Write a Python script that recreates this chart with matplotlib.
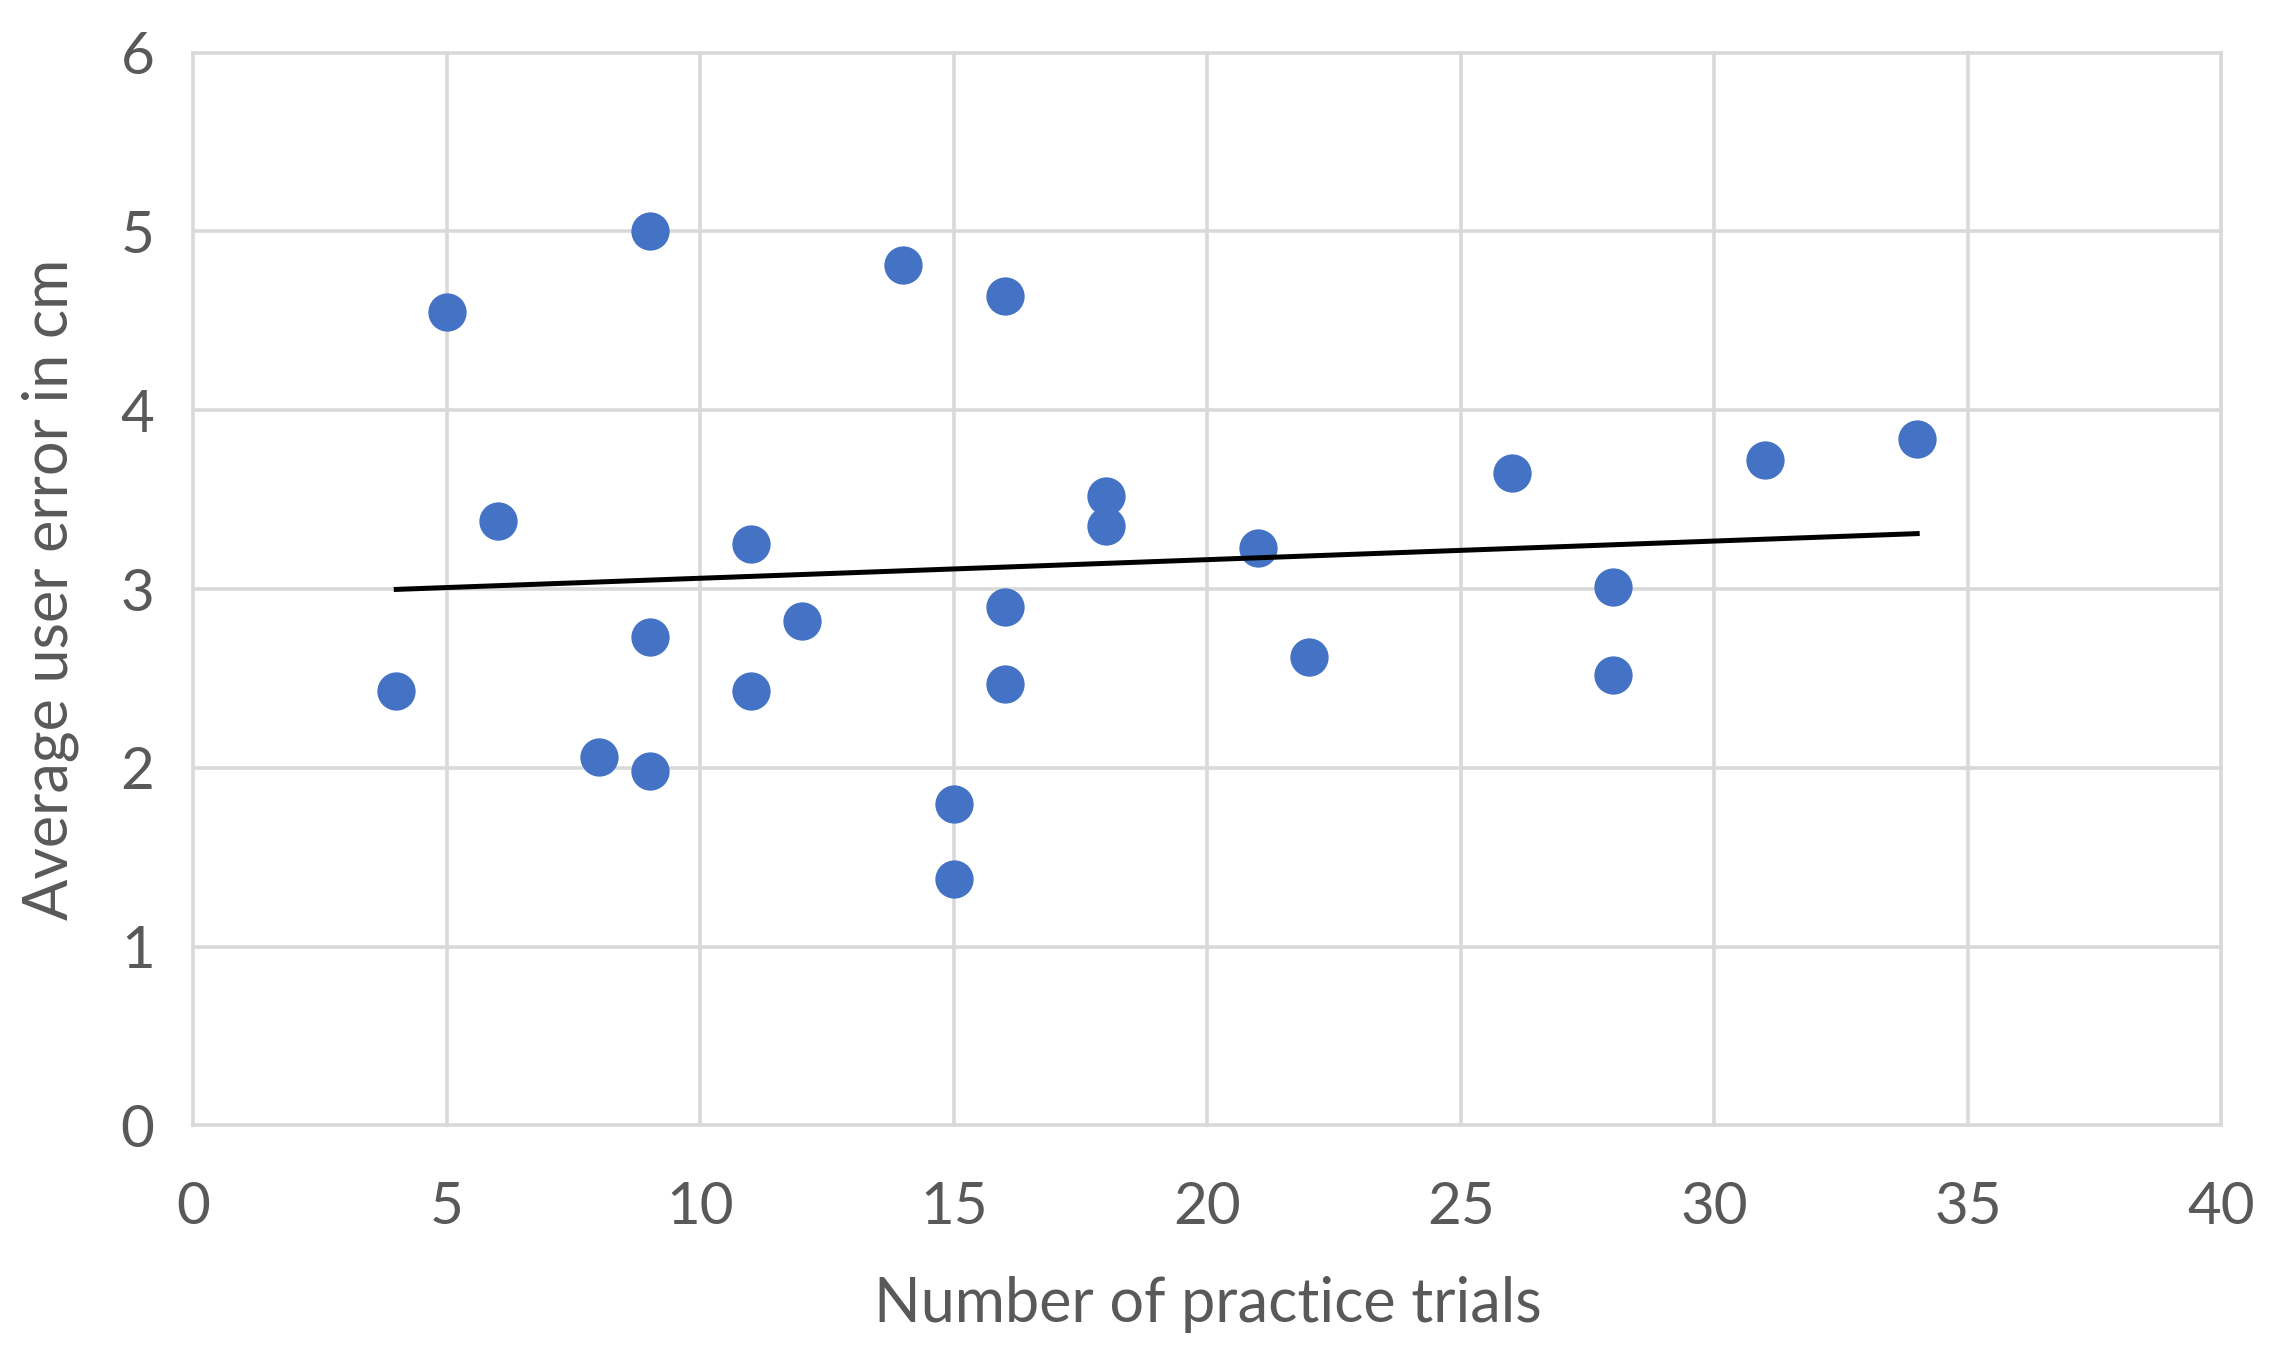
import numpy as np
import matplotlib
matplotlib.use("Agg")
import matplotlib.pyplot as plt

trials = [5, 9, 14, 16, 6, 11, 18, 18, 21, 26, 31, 34, 28, 28, 22, 16, 16, 12, 9, 11, 4, 8, 9, 15, 15]
errors = [4.55, 5.0, 4.81, 4.64, 3.38, 3.25, 3.52, 3.35, 3.23, 3.65, 3.72, 3.84, 3.01, 2.52, 2.62,
          2.90, 2.47, 2.82, 2.73, 2.43, 2.43, 2.06, 1.98, 1.80, 1.38]
x_ticks = [0, 5, 10, 15, 20, 25, 30, 35, 40]
y_ticks = [0, 1, 2, 3, 4, 5, 6]

plt.rcParams['font.family'] = ['Lato', 'DejaVu Sans']

fig = plt.figure(figsize=(22.76, 13.51), dpi=100)
ax = fig.add_axes([0.085, 0.167, 0.891, 0.794])

ax.scatter(trials, errors, s=760, color='#4472C4', zorder=3, linewidths=0)

coef = np.polyfit(trials, errors, 1)
xs = np.array([min(trials), max(trials)])
ax.plot(xs, np.polyval(coef, xs), color='black', lw=3.6, zorder=4)

ax.set_xlim(0, 40)
ax.set_ylim(0, 6)
ax.set_xticks(x_ticks)
ax.set_yticks(y_ticks)
ax.grid(True, color='#D9D9D9', lw=2.6, zorder=0)
for gl in ax.get_xgridlines() + ax.get_ygridlines():
    gl.set_clip_on(False)
for s in ax.spines.values():
    s.set_visible(False)
ax.tick_params(length=0, labelsize=42, labelcolor='#595959')
ax.tick_params(axis='x', pad=40)
ax.tick_params(axis='y', pad=28)
ax.set_xlabel('Number of practice trials', fontsize=44, color='#595959', labelpad=30)
ax.set_ylabel('Average user error in cm', fontsize=44, color='#595959', labelpad=30)

fig.savefig('out.png', dpi=100, facecolor='white')
